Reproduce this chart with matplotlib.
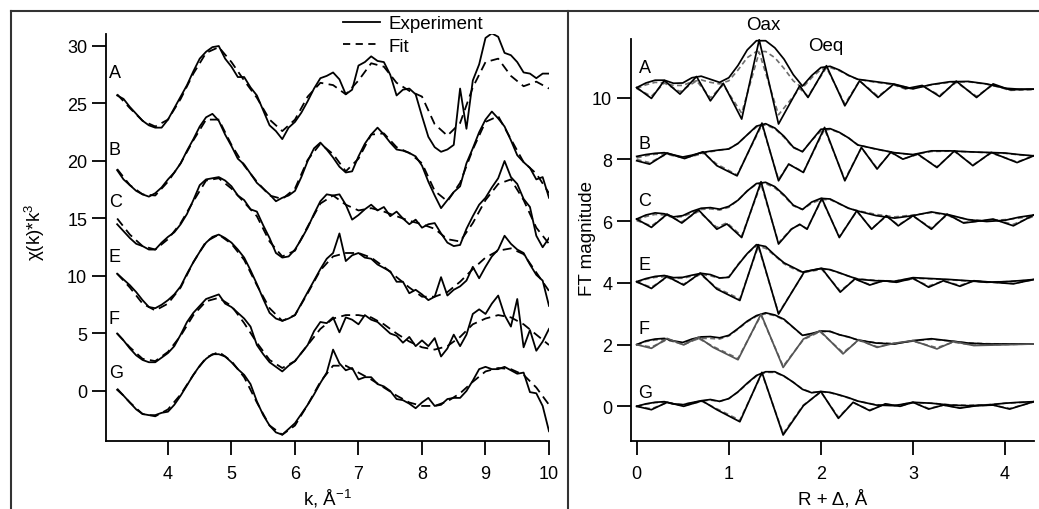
import numpy as np
import matplotlib
matplotlib.use("Agg")
import matplotlib.pyplot as plt
from matplotlib.lines import Line2D

plt.rcParams['font.family'] = ['Liberation Sans', 'DejaVu Sans']
plt.rcParams['mathtext.fontset'] = 'custom'
plt.rcParams['mathtext.rm'] = 'Liberation Sans'
plt.rcParams['mathtext.it'] = 'Liberation Sans:italic'

# --- left panel: chi(k)*k^3 (offsets included) ---
names = ["A", "B", "C", "E", "F", "G"]

k_exp = np.linspace(3.2, 10.0, 69)   # 0.1 step
k_fit = np.linspace(3.2, 10.0, 35)   # 0.2 step

chi_exp = {
    "A": [25.7, 25.4, 24.7, 24.1, 23.5, 23.1, 22.9, 22.9, 23.6, 24.6,
          25.6, 26.6, 27.8, 28.9, 29.5, 29.9, 30.0, 28.9, 28.2, 27.3,
          27.3, 26.4, 25.7, 24.4, 23.1, 22.6, 21.9, 22.9, 23.4, 24.2,
          25.2, 26.3, 27.2, 27.4, 27.7, 27.1, 25.8, 26.2, 28.3, 28.6,
          29.1, 28.7, 28.6, 27.5, 25.7, 26.2, 26.3, 25.8, 23.9, 22.1,
          21.2, 20.8, 21.0, 21.4, 26.3, 22.8, 27.0, 28.4, 30.7, 31.1,
          30.8, 29.4, 29.2, 28.6, 27.7, 27.6, 27.2, 27.6, 27.6],
    "B": [19.2, 18.4, 17.9, 17.4, 17.1, 16.9, 17.2, 17.7, 18.4, 19.0,
          19.8, 20.9, 21.9, 23.0, 23.8, 24.1, 23.5, 22.3, 21.3, 20.2,
          19.7, 18.9, 18.1, 17.6, 17.1, 16.5, 16.8, 17.0, 17.4, 18.6,
          20.0, 21.1, 21.6, 21.0, 20.3, 19.5, 19.0, 19.1, 20.4, 21.5,
          22.3, 22.9, 22.3, 21.6, 21.0, 20.9, 20.7, 20.4, 19.6, 18.2,
          17.0, 15.9, 16.6, 17.3, 17.8, 19.8, 21.1, 22.5, 23.6, 24.3,
          23.7, 23.0, 21.8, 20.5, 19.9, 19.4, 18.4, 18.6, 16.8],
    "C": [14.5, 13.9, 13.3, 12.8, 12.6, 12.3, 12.3, 12.9, 13.4, 13.8,
          14.5, 15.4, 16.6, 17.9, 18.4, 18.5, 18.6, 18.3, 17.8, 17.0,
          16.6, 15.8, 15.6, 14.4, 13.3, 12.0, 11.6, 11.7, 12.3, 13.2,
          14.2, 15.4, 16.5, 17.1, 17.0, 17.1, 16.2, 14.9, 15.3, 15.8,
          16.2, 15.7, 16.0, 15.2, 15.6, 15.0, 14.5, 14.9, 14.2, 14.5,
          14.6, 13.7, 12.9, 12.6, 12.7, 14.1, 15.2, 16.2, 16.8, 17.7,
          18.5, 20.0, 18.6, 18.0, 16.7, 16.0, 13.5, 12.5, 13.3],
    "E": [10.2, 9.7, 9.2, 8.6, 7.9, 7.3, 7.2, 7.5, 7.9, 8.4,
          9.1, 10.2, 11.2, 12.1, 12.9, 13.4, 13.6, 13.3, 12.9, 12.3,
          11.6, 10.5, 9.3, 8.0, 6.8, 6.3, 6.1, 6.3, 6.6, 7.6,
          8.6, 9.6, 10.6, 11.5, 12.0, 13.7, 11.3, 11.8, 12.0, 11.6,
          11.5, 11.0, 10.7, 10.4, 9.5, 9.5, 8.5, 8.8, 8.4, 7.9,
          8.2, 9.9, 8.3, 8.8, 9.1, 9.6, 10.8, 9.8, 10.8, 11.7,
          12.3, 13.5, 12.8, 12.3, 12.0, 11.0, 10.1, 9.6, 7.4],
    "F": [5.0, 4.4, 3.7, 3.1, 2.7, 2.5, 2.5, 2.9, 3.3, 3.9,
          4.9, 6.0, 6.8, 7.4, 8.0, 8.2, 8.4, 7.6, 7.3, 6.8,
          6.3, 5.6, 4.0, 3.2, 2.5, 2.1, 1.7, 2.2, 2.6, 3.3,
          4.0, 5.2, 6.0, 5.9, 6.4, 5.1, 6.4, 6.2, 5.8, 6.6,
          6.2, 6.0, 5.5, 5.0, 4.8, 4.2, 4.7, 3.9, 4.4, 3.9,
          4.6, 3.0, 3.7, 4.9, 3.9, 4.9, 6.7, 7.1, 6.7, 7.6,
          8.3, 6.6, 5.6, 8.0, 3.8, 5.3, 3.5, 4.3, 5.4],
    "G": [0.1, -0.4, -1.0, -1.6, -2.0, -2.1, -2.1, -1.9, -1.8, -1.2,
          -0.4, 0.5, 1.4, 2.2, 2.8, 3.2, 3.2, 3.0, 2.5, 1.9,
          1.4, 0.6, -0.9, -2.1, -3.0, -3.6, -3.8, -3.3, -2.8, -2.0,
          -1.2, -0.3, 0.7, 1.6, 3.6, 2.4, 1.8, 2.0, 1.0, 1.2,
          1.2, 0.6, 0.4, 0.0, -0.7, -0.8, -1.1, -1.5, -1.0, -0.6,
          -1.3, -1.2, -0.7, -0.6, -0.6, 0.0, 0.9, 1.9, 2.1, 1.9,
          1.9, 2.1, 1.8, 1.5, 1.6, -0.1, -0.2, -1.3, -3.5],
}

chi_fit = {
    "A": [25.8, 24.6, 23.5, 23.0, 23.6, 25.4, 27.6, 29.4, 29.9, 28.6,
          27.0, 25.5, 23.6, 22.6, 23.6, 25.6, 26.8, 26.6, 25.8, 27.0,
          28.5, 28.2, 26.8, 26.1, 25.6, 23.2, 22.2, 23.3, 26.4, 28.6,
          28.9, 27.4, 26.5, 26.9, 26.3],
    "B": [19.3, 17.9, 17.1, 17.0, 18.2, 19.8, 21.8, 23.6, 23.6, 21.4,
          19.6, 18.2, 17.0, 16.7, 17.6, 20.1, 21.5, 20.6, 19.1, 20.2,
          22.3, 22.4, 21.2, 20.7, 19.8, 17.4, 16.5, 18.1, 21.0, 23.4,
          23.9, 21.9, 19.9, 18.9, 17.2],
    "C": [15.0, 13.6, 12.6, 12.3, 13.2, 14.6, 16.5, 18.3, 18.5, 17.6,
          16.4, 15.2, 13.0, 11.7, 12.2, 14.3, 16.3, 17.0, 16.2, 15.7,
          15.9, 15.6, 15.2, 14.8, 14.5, 14.1, 13.2, 13.0, 14.6, 16.6,
          18.0, 18.4, 16.6, 14.2, 12.8],
    "E": [10.2, 9.0, 7.6, 7.0, 7.6, 9.0, 11.2, 13.0, 13.6, 12.8,
          11.4, 9.2, 7.2, 6.1, 6.6, 8.5, 10.5, 11.7, 12.0, 12.0,
          11.6, 10.8, 9.9, 9.0, 8.2, 8.2, 8.6, 9.5, 10.6, 11.6,
          12.2, 12.4, 11.9, 10.3, 8.7],
    "F": [5.0, 3.8, 2.8, 2.6, 3.4, 4.8, 6.6, 7.8, 8.1, 7.4,
          5.9, 4.2, 2.7, 2.0, 2.6, 4.0, 5.4, 6.3, 6.6, 6.6,
          6.4, 5.8, 5.0, 4.3, 3.8, 3.6, 3.9, 4.7, 5.8, 6.3,
          6.6, 6.4, 5.8, 4.9, 4.0],
    "G": [0.2, -1.0, -2.0, -2.2, -1.6, -0.3, 1.4, 2.9, 3.4, 2.6,
          1.2, -1.0, -3.0, -3.8, -3.0, -1.2, 0.8, 2.2, 2.2, 1.6,
          1.0, 0.3, -0.4, -1.0, -1.3, -1.3, -0.9, -0.2, 0.8, 1.7,
          2.0, 1.9, 1.4, 0.3, -1.2],
}
left_label_y = [27.7, 21.0, 16.5, 11.7, 6.3, 1.65]

# --- right panel: FT magnitude and imaginary part (offsets included) ---
R_mag = [0.0, 0.1, 0.2, 0.3, 0.4, 0.5, 0.6, 0.7, 0.8, 0.9, 1.0, 1.1, 1.2,
         1.3, 1.4, 1.5, 1.6, 1.7, 1.8, 1.9, 2.0, 2.1, 2.2, 2.3, 2.4, 2.6,
         2.8, 3.0, 3.2, 3.4, 3.6, 3.8, 4.0, 4.15, 4.31]

mag_exp = {
    "A": [10.33, 10.48, 10.57, 10.57, 10.47, 10.48, 10.65, 10.7, 10.6, 10.5,
          10.65, 11.05, 11.55, 11.85, 11.85, 11.62, 11.25, 10.75, 10.38, 10.72,
          10.98, 11.02, 10.9, 10.73, 10.6, 10.52, 10.44, 10.29, 10.43, 10.52,
          10.53, 10.45, 10.31, 10.28, 10.28],
    "B": [8.1, 8.16, 8.2, 8.22, 8.15, 8.08, 8.14, 8.22, 8.27, 8.31,
          8.34, 8.52, 8.8, 9.08, 9.16, 9.02, 8.75, 8.4, 8.25, 8.62,
          8.98, 9.0, 8.88, 8.7, 8.47, 8.34, 8.22, 8.16, 8.28, 8.28,
          8.25, 8.23, 8.21, 8.16, 8.12],
    "C": [6.07, 6.2, 6.27, 6.24, 6.14, 6.18, 6.32, 6.42, 6.44, 6.39,
          6.48, 6.68, 6.98, 7.22, 7.26, 7.12, 6.85, 6.52, 6.38, 6.62,
          6.74, 6.72, 6.57, 6.42, 6.33, 6.18, 6.1, 6.18, 6.3, 6.2,
          6.05, 5.99, 6.03, 6.13, 6.2],
    "E": [4.04, 4.14, 4.21, 4.24, 4.17, 4.18, 4.25, 4.31, 4.27, 4.16,
          4.18, 4.58, 4.95, 5.24, 5.18, 4.9, 4.65, 4.5, 4.35, 4.41,
          4.47, 4.43, 4.33, 4.22, 4.12, 4.07, 4.05, 4.17, 4.14, 4.11,
          4.07, 4.02, 4.04, 4.07, 4.11],
    "F": [2.0, 2.12, 2.18, 2.2, 2.12, 2.07, 2.18, 2.25, 2.26, 2.22,
          2.3, 2.52, 2.76, 2.94, 3.03, 2.96, 2.82, 2.56, 2.3, 2.36,
          2.44, 2.43, 2.32, 2.25, 2.15, 2.05, 2.02, 2.13, 2.19, 2.12,
          2.05, 2.02, 2.02, 2.02, 2.02],
    "G": [0.0, 0.08, 0.13, 0.15, 0.08, 0.05, 0.12, 0.18, 0.22, 0.16,
          0.25, 0.47, 0.75, 1.0, 1.12, 1.12, 0.98, 0.78, 0.55, 0.44,
          0.48, 0.45, 0.37, 0.28, 0.17, 0.04, 0.02, 0.13, 0.1, 0.04,
          0.02, 0.04, 0.1, 0.13, 0.15],
}
mag_fit = {
    "A": [10.3, 10.42, 10.5, 10.48, 10.4, 10.4, 10.52, 10.58, 10.5, 10.45,
          10.55, 10.9, 11.3, 11.5, 11.5, 11.3, 10.95, 10.55, 10.32, 10.65,
          10.92, 10.98, 10.88, 10.72, 10.6, 10.5, 10.42, 10.3, 10.42, 10.5,
          10.52, 10.44, 10.3, 10.27, 10.27],
    "B": [8.05, 8.12, 8.17, 8.18, 8.12, 8.06, 8.1, 8.18, 8.25, 8.3,
          8.35, 8.52, 8.8, 9.05, 9.12, 9.0, 8.72, 8.38, 8.26, 8.62,
          8.92, 8.98, 8.87, 8.7, 8.48, 8.33, 8.22, 8.15, 8.26, 8.27,
          8.25, 8.22, 8.2, 8.15, 8.11],
    "C": [6.02, 6.15, 6.22, 6.2, 6.12, 6.15, 6.27, 6.38, 6.4, 6.36,
          6.45, 6.68, 6.98, 7.2, 7.22, 7.08, 6.82, 6.5, 6.38, 6.58,
          6.7, 6.7, 6.56, 6.42, 6.34, 6.22, 6.14, 6.2, 6.28, 6.18,
          6.05, 6.02, 6.05, 6.1, 6.16],
    "E": [4.02, 4.12, 4.18, 4.2, 4.15, 4.15, 4.22, 4.27, 4.23, 4.15,
          4.2, 4.6, 4.95, 5.2, 5.12, 4.88, 4.62, 4.46, 4.34, 4.4,
          4.45, 4.42, 4.32, 4.22, 4.13, 4.08, 4.06, 4.15, 4.13, 4.1,
          4.06, 4.03, 4.04, 4.06, 4.1],
    "F": [2.0, 2.1, 2.15, 2.16, 2.1, 2.05, 2.14, 2.2, 2.2, 2.18,
          2.28, 2.5, 2.74, 2.92, 3.0, 2.94, 2.8, 2.55, 2.3, 2.34,
          2.42, 2.42, 2.32, 2.24, 2.15, 2.06, 2.03, 2.12, 2.17, 2.12,
          2.05, 2.03, 2.02, 2.02, 2.02],
    "G": [0.0, 0.07, 0.12, 0.13, 0.08, 0.06, 0.12, 0.17, 0.2, 0.16,
          0.25, 0.46, 0.73, 0.98, 1.1, 1.1, 0.97, 0.78, 0.56, 0.45,
          0.47, 0.44, 0.36, 0.27, 0.17, 0.05, 0.03, 0.12, 0.1, 0.05,
          0.03, 0.05, 0.1, 0.12, 0.14],
}

# imaginary part: turning points of each trace
R_im = {
    "A": [0, 0.16, 0.3, 0.47, 0.65, 0.8, 0.94, 1.14, 1.33, 1.54, 1.77, 1.86,
          2.06, 2.26, 2.42, 2.62, 2.79, 2.93, 3.1, 3.29, 3.47, 3.69, 3.87,
          4.05, 4.31],
    "B": [0, 0.14, 0.33, 0.52, 0.72, 0.87, 1.09, 1.36, 1.54, 1.65, 1.81, 2.04,
          2.26, 2.44, 2.61, 2.76, 2.89, 3.05, 3.26, 3.45, 3.65, 3.85, 4.13,
          4.31],
    "C": [0, 0.16, 0.33, 0.49, 0.67, 0.87, 0.98, 1.14, 1.35, 1.54, 1.68, 1.77,
          1.85, 2.01, 2.2, 2.39, 2.55, 2.71, 2.84, 3.0, 3.2, 3.37, 3.55, 3.73,
          3.87, 4.09, 4.31],
    "E": [0, 0.16, 0.33, 0.51, 0.69, 0.87, 1.12, 1.32, 1.54, 1.82, 2.01, 2.21,
          2.37, 2.53, 2.68, 2.82, 3.0, 3.17, 3.33, 3.51, 3.66, 3.87, 4.09,
          4.31],
    "F": [0, 0.16, 0.33, 0.51, 0.67, 0.83, 1.1, 1.35, 1.59, 1.81, 1.99, 2.24,
          2.41, 2.61, 2.79, 3.0, 3.26, 3.44, 3.66, 3.94, 4.31],
    "G": [0, 0.16, 0.33, 0.51, 0.71, 0.87, 1.12, 1.36, 1.59, 1.81, 2.0, 2.19,
          2.35, 2.53, 2.7, 2.86, 3.0, 3.17, 3.33, 3.51, 3.69, 3.87, 4.05,
          4.31],
}
im_exp = {
    "A": [10.33, 9.98, 10.56, 10.12, 10.69, 9.9, 10.47, 9.31, 11.88, 9.15,
          10.39, 10.01, 11.04, 9.74, 10.55, 10.01, 10.44, 10.3, 10.4, 10.04,
          10.54, 10.01, 10.45, 10.26, 10.28],
    "B": [7.96, 7.85, 8.21, 8.03, 8.25, 7.8, 7.47, 9.18, 7.31, 7.85, 7.58,
          9.04, 7.31, 8.39, 7.69, 8.24, 8.01, 8.18, 7.74, 8.28, 7.8, 8.23,
          7.9, 8.12],
    "C": [6.07, 5.8, 6.23, 5.94, 6.37, 5.74, 5.91, 5.47, 7.28, 5.26, 5.74,
          5.9, 5.74, 6.74, 5.47, 6.34, 5.74, 6.18, 5.85, 6.18, 5.74, 6.23,
          5.94, 6.01, 6.07, 5.85, 6.2],
    "E": [4.04, 3.82, 4.21, 3.93, 4.32, 3.8, 3.43, 5.24, 2.99, 4.36, 4.47,
          3.7, 4.13, 3.93, 4.07, 4.02, 4.15, 3.86, 4.07, 3.89, 4.07, 4.02,
          3.97, 4.11],
    "F": [2.0, 1.88, 2.2, 1.99, 2.24, 1.91, 1.51, 2.99, 1.26, 2.18, 2.45,
          1.7, 2.16, 1.91, 2.04, 2.13, 1.86, 2.1, 1.97, 1.99, 2.02],
    "G": [0.0, -0.11, 0.13, 0.0, 0.18, -0.11, -0.5, 1.1, -0.93, 0.02, 0.48,
          -0.39, 0.13, -0.14, 0.08, 0.0, 0.13, -0.09, 0.04, -0.06, 0.02,
          0.04, -0.09, 0.15],
}
im_fit = {
    "A": [10.3, 10.05, 10.48, 10.2, 10.55, 10.0, 10.42, 9.5, 11.48, 9.45,
          10.3, 10.05, 10.98, 9.8, 10.55, 10.05, 10.42, 10.27, 10.38, 10.08,
          10.5, 10.05, 10.42, 10.24, 10.27],
    "B": [8.0, 7.9, 8.18, 8.05, 8.22, 7.85, 7.5, 9.12, 7.35, 7.85, 7.6,
          8.98, 7.35, 8.38, 7.72, 8.22, 8.02, 8.16, 7.76, 8.26, 7.82, 8.21,
          7.92, 8.11],
    "C": [6.02, 5.85, 6.2, 5.98, 6.32, 5.8, 5.95, 5.52, 7.2, 5.3, 5.75,
          5.88, 5.76, 6.7, 5.5, 6.32, 5.76, 6.16, 5.88, 6.16, 5.78, 6.2,
          5.96, 6.0, 6.05, 5.9, 6.16],
    "E": [4.02, 3.86, 4.18, 3.96, 4.28, 3.84, 3.48, 5.18, 3.02, 4.34, 4.44,
          3.74, 4.12, 3.95, 4.06, 4.03, 4.13, 3.9, 4.06, 3.92, 4.06, 4.02,
          3.98, 4.1],
    "F": [2.0, 1.92, 2.16, 2.0, 2.2, 1.94, 1.55, 2.95, 1.3, 2.16, 2.42,
          1.74, 2.14, 1.93, 2.04, 2.11, 1.9, 2.08, 1.98, 2.0, 2.02],
    "G": [0.0, -0.08, 0.12, 0.02, 0.16, -0.08, -0.45, 1.06, -0.88, 0.04,
          0.46, -0.35, 0.12, -0.12, 0.07, 0.01, 0.12, -0.07, 0.04, -0.05,
          0.02, 0.04, -0.07, 0.14],
}
right_label_y = [10.98, 8.53, 6.66, 4.61, 2.51, 0.45]

FS = 13
LFS = 13.5

fig = plt.figure(figsize=(10.39, 5.10), dpi=100)
axL = fig.add_axes([0.102, 0.1333, 0.4264, 0.798])
axR = fig.add_axes([0.6073, 0.1333, 0.3879, 0.7883])


def style_axis(ax):
    for s in ("top", "right"):
        ax.spines[s].set_visible(False)
    for s in ("left", "bottom"):
        ax.spines[s].set_linewidth(1.3)
    ax.tick_params(direction="out", length=10, width=1.3, labelsize=FS)
    ax.tick_params(axis="x", pad=7)
    ax.tick_params(axis="y", pad=3.5)


# left panel
for n in names:
    axL.plot(k_exp, chi_exp[n], color="black", lw=1.3)
    axL.plot(k_fit, chi_fit[n], color="black", lw=1.3, dashes=(5, 3))
for n, y in zip(names, left_label_y):
    axL.text(3.07, y, n, fontsize=FS, va="center", ha="left")

axL.set_xlim(3.024, 10.0)
axL.set_ylim(-4.35, 31.04)
axL.set_xticks(range(4, 11))
axL.set_yticks(range(0, 31, 5))
style_axis(axL)
axL.set_ylabel("χ(k)*k$^{3}$", fontsize=LFS)
axL.yaxis.set_label_coords(-0.133, 0.516)
axL.set_xlabel("k, Å$^{-1}$", fontsize=LFS)
axL.xaxis.set_label_coords(0.5, -0.112)

h_exp = Line2D([], [], color="black", lw=1.3)
h_fit = Line2D([], [], color="black", lw=1.3, dashes=(4, 3))
fig.legend([h_exp, h_fit], ["Experiment", "Fit"], loc="upper left",
           bbox_to_anchor=(0.330, 0.968), frameon=False, fontsize=LFS,
           handlelength=2.0, handletextpad=0.43, labelspacing=0.28,
           borderpad=0, borderaxespad=0)

# right panel
gray = "#6e6e6e"
for n in names:
    im_col = "#555555" if n == "F" else "black"
    axR.plot(R_mag, mag_fit[n], color=gray, lw=1.2, dashes=(3, 2))
    axR.plot(R_im[n], im_fit[n], color=gray, lw=1.2, dashes=(3, 2))
    axR.plot(R_mag, mag_exp[n], color="black", lw=1.25)
    axR.plot(R_im[n], im_exp[n], color=im_col, lw=1.25)
for n, y in zip(names, right_label_y):
    axR.text(0.02, y, n, fontsize=FS, va="center", ha="left")
axR.text(1.37, 12.39, "Oax", fontsize=LFS, ha="center", va="center", clip_on=False)
axR.text(2.05, 11.68, "Oeq", fontsize=LFS, ha="center", va="center")

axR.set_xlim(-0.062, 4.314)
axR.set_ylim(-1.125, 11.906)
axR.set_xticks(range(0, 5))
axR.set_yticks(range(0, 11, 2))
style_axis(axR)
axR.set_ylabel("FT magnitude", fontsize=LFS)
axR.yaxis.set_label_coords(-0.086, 0.505)
axR.set_xlabel("R + Δ, Å", fontsize=LFS)
axR.xaxis.set_label_coords(0.5, -0.12)

# frame lines around the two panels
frame = dict(color="#333333", lw=1.5, transform=fig.transFigure)
fig.add_artist(Line2D([0.0106, 1.0], [0.9765, 0.9765], **frame))
fig.add_artist(Line2D([0.0106, 0.0106], [0.0, 0.9765], **frame))
fig.add_artist(Line2D([0.5467, 0.5467], [0.0, 0.9765], **frame))

fig.savefig("out.png", dpi=100)
